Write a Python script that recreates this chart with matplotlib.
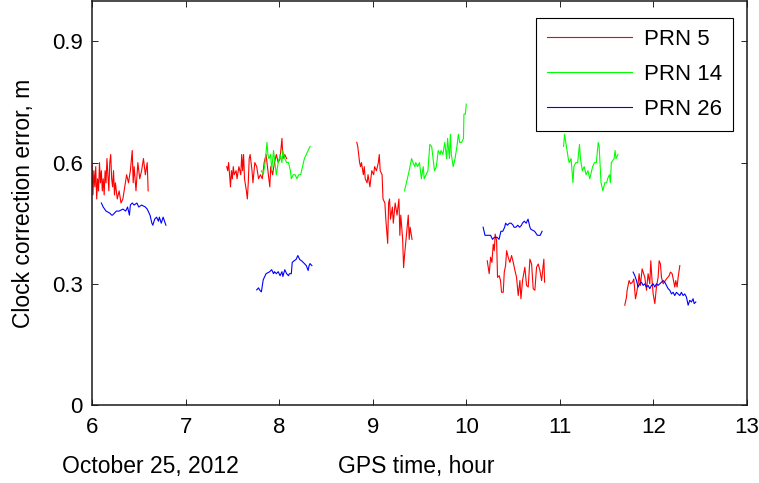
import matplotlib
matplotlib.use("Agg")
import matplotlib.pyplot as plt

plt.rcParams["font.family"] = ["Liberation Sans", "DejaVu Sans"]

# ---- PRN 5 (red), clock correction error [m] vs GPS time [hour] ----
prn5_a_t = [6.00, 6.01, 6.02, 6.03, 6.04, 6.05, 6.06, 6.07, 6.08, 6.09, 6.10, 6.11, 6.12, 6.13, 6.14,
            6.15, 6.16, 6.17, 6.18, 6.19, 6.20, 6.21, 6.22, 6.23, 6.24, 6.25, 6.27, 6.29, 6.31, 6.33,
            6.35, 6.37, 6.39, 6.41, 6.43, 6.44, 6.45, 6.47, 6.49, 6.51, 6.53, 6.55, 6.57, 6.59, 6.60]
prn5_a_y = [0.60, 0.52, 0.58, 0.54, 0.59, 0.51, 0.56, 0.53, 0.60, 0.55, 0.58, 0.53, 0.56, 0.52, 0.58,
            0.55, 0.61, 0.57, 0.53, 0.60, 0.62, 0.56, 0.54, 0.58, 0.52, 0.55, 0.51, 0.53, 0.50, 0.51,
            0.54, 0.57, 0.55, 0.58, 0.63, 0.55, 0.59, 0.53, 0.60, 0.56, 0.58, 0.61, 0.57, 0.60, 0.53]

prn5_b_t = [7.44, 7.45, 7.46, 7.47, 7.48, 7.49, 7.50, 7.51, 7.52, 7.54, 7.55, 7.57, 7.59, 7.60, 7.61,
            7.62, 7.63, 7.65, 7.66, 7.67, 7.68, 7.69, 7.71, 7.72, 7.74, 7.76, 7.78, 7.80, 7.82, 7.84,
            7.86, 7.88, 7.90, 7.91, 7.93, 7.95, 7.97, 7.99, 8.01, 8.03, 8.04, 8.06, 8.08]
prn5_b_y = [0.59, 0.58, 0.60, 0.57, 0.54, 0.58, 0.56, 0.59, 0.57, 0.58, 0.56, 0.59, 0.57, 0.62, 0.58,
            0.62, 0.56, 0.53, 0.51, 0.55, 0.61, 0.62, 0.58, 0.55, 0.60, 0.59, 0.56, 0.57, 0.56, 0.60,
            0.62, 0.58, 0.54, 0.59, 0.57, 0.60, 0.62, 0.60, 0.61, 0.66, 0.61, 0.62, 0.61]

prn5_c_t = [8.83, 8.84, 8.86, 8.87, 8.88, 8.90, 8.91, 8.92, 8.94, 8.95, 8.97, 8.99, 9.01, 9.02, 9.04,
            9.06, 9.07, 9.08, 9.10, 9.11, 9.13, 9.14, 9.15, 9.16, 9.17, 9.18, 9.19, 9.21, 9.22, 9.24,
            9.26, 9.28, 9.29, 9.30, 9.32, 9.33, 9.34, 9.36, 9.38, 9.39, 9.40, 9.42]
prn5_c_y = [0.65, 0.64, 0.60, 0.59, 0.60, 0.57, 0.59, 0.56, 0.55, 0.57, 0.54, 0.58, 0.57, 0.59, 0.58,
            0.60, 0.62, 0.58, 0.57, 0.51, 0.50, 0.46, 0.43, 0.40, 0.50, 0.51, 0.46, 0.49, 0.45, 0.50,
            0.47, 0.51, 0.42, 0.47, 0.41, 0.34, 0.37, 0.42, 0.47, 0.41, 0.44, 0.41]

prn5_d_t = [10.224, 10.245, 10.260, 10.274, 10.288, 10.299, 10.309, 10.324, 10.334, 10.352, 10.366,
            10.377, 10.395, 10.406, 10.420, 10.431, 10.448, 10.466, 10.484, 10.502, 10.520, 10.537,
            10.555, 10.573, 10.584, 10.601, 10.626, 10.644, 10.662, 10.680, 10.698, 10.715, 10.733,
            10.751, 10.769, 10.787, 10.805, 10.829, 10.837]
prn5_d_y = [0.357, 0.325, 0.366, 0.353, 0.398, 0.382, 0.423, 0.407, 0.316, 0.320, 0.308,
            0.279, 0.279, 0.329, 0.345, 0.382, 0.366, 0.353, 0.370, 0.353, 0.333, 0.316,
            0.271, 0.308, 0.263, 0.308, 0.341, 0.296, 0.292, 0.361, 0.349, 0.288, 0.284,
            0.341, 0.349, 0.333, 0.308, 0.361, 0.304]

prn5_e_t = [11.694, 11.712, 11.719, 11.740, 11.755, 11.776, 11.790, 11.808, 11.819, 11.836, 11.847,
            11.861, 11.879, 11.890, 11.908, 11.926, 11.943, 11.961, 11.972, 11.983, 11.997, 12.015,
            12.032, 12.050, 12.061, 12.075, 12.086, 12.104, 12.139, 12.168, 12.182, 12.200, 12.218,
            12.228, 12.239, 12.253, 12.264, 12.282]
prn5_e_y = [0.247, 0.267, 0.284, 0.308, 0.300, 0.304, 0.312, 0.263, 0.275, 0.300, 0.325,
            0.296, 0.337, 0.329, 0.316, 0.284, 0.325, 0.300, 0.357, 0.316, 0.275, 0.251,
            0.292, 0.316, 0.357, 0.349, 0.316, 0.300, 0.312, 0.320, 0.329, 0.325, 0.304,
            0.292, 0.308, 0.292, 0.316, 0.345]

# ---- PRN 14 (green) ----
prn14_a_t = [7.81, 7.83, 7.85, 7.87, 7.88, 7.89, 7.91, 7.92, 7.94, 7.96, 7.97, 7.99, 8.01, 8.03, 8.04,
             8.06, 8.08, 8.10, 8.12, 8.13, 8.15, 8.17, 8.19, 8.21, 8.23, 8.25, 8.27, 8.29, 8.31, 8.33]
prn14_a_y = [0.58, 0.57, 0.60, 0.65, 0.62, 0.61, 0.62, 0.58, 0.63, 0.59, 0.57, 0.60, 0.62, 0.60, 0.63,
             0.61, 0.60, 0.60, 0.58, 0.56, 0.57, 0.57, 0.56, 0.57, 0.57, 0.59, 0.61, 0.62, 0.63, 0.64]

prn14_b_t = [9.34, 9.36, 9.37, 9.39, 9.415, 9.43, 9.45, 9.46, 9.48, 9.50, 9.52, 9.54, 9.55, 9.57, 9.59,
             9.61, 9.63, 9.65, 9.66, 9.68, 9.70, 9.72, 9.73, 9.75, 9.77, 9.79, 9.80, 9.82, 9.83, 9.84,
             9.86, 9.88, 9.90, 9.915, 9.93, 9.95, 9.97, 9.975, 9.99, 10.00]
prn14_b_y = [0.53, 0.55, 0.56, 0.58, 0.61, 0.60, 0.59, 0.60, 0.59, 0.60, 0.56, 0.59, 0.56, 0.57, 0.58,
             0.645, 0.64, 0.60, 0.58, 0.59, 0.63, 0.62, 0.63, 0.62, 0.65, 0.61, 0.66, 0.61, 0.67, 0.62,
             0.59, 0.61, 0.64, 0.67, 0.65, 0.65, 0.66, 0.72, 0.72, 0.745]

prn14_c_t = [11.04, 11.05, 11.07, 11.09, 11.10, 11.12, 11.14, 11.15, 11.17, 11.19, 11.21, 11.22, 11.24,
             11.26, 11.28, 11.30, 11.32, 11.34, 11.35, 11.37, 11.39, 11.41, 11.42, 11.44, 11.46, 11.48,
             11.50, 11.51, 11.53, 11.54, 11.55, 11.58, 11.59, 11.60, 11.62]
prn14_c_y = [0.64, 0.67, 0.64, 0.61, 0.60, 0.61, 0.55, 0.59, 0.60, 0.60, 0.645, 0.61, 0.58,
             0.59, 0.57, 0.58, 0.56, 0.58, 0.59, 0.60, 0.60, 0.65, 0.64, 0.55, 0.53, 0.55,
             0.55, 0.56, 0.57, 0.55, 0.60, 0.61, 0.63, 0.61, 0.62]

# ---- PRN 26 (blue) ----
prn26_a_t = [6.10, 6.12, 6.15, 6.19, 6.21, 6.22, 6.26, 6.29, 6.33, 6.36, 6.38, 6.40, 6.41, 6.43, 6.45,
             6.48, 6.50, 6.53, 6.57, 6.59, 6.60, 6.62, 6.64, 6.65, 6.67, 6.69, 6.71, 6.72, 6.74, 6.76, 6.79]
prn26_a_y = [0.50, 0.49, 0.48, 0.475, 0.47, 0.47, 0.48, 0.48, 0.485, 0.48, 0.49, 0.47, 0.495, 0.50, 0.495,
             0.50, 0.49, 0.495, 0.49, 0.485, 0.48, 0.47, 0.45, 0.445, 0.46, 0.465, 0.455, 0.465, 0.45,
             0.465, 0.445]

prn26_b_t = [7.76, 7.78, 7.79, 7.81, 7.83, 7.85, 7.86, 7.90, 7.92, 7.94, 7.95, 7.97, 7.99, 8.01, 8.03,
             8.04, 8.06, 8.08, 8.10, 8.11, 8.13, 8.14, 8.16, 8.18, 8.20, 8.22, 8.24, 8.27, 8.29, 8.31,
             8.32, 8.33, 8.35]
prn26_b_y = [0.285, 0.29, 0.285, 0.28, 0.31, 0.32, 0.325, 0.33, 0.335, 0.325, 0.33, 0.325, 0.33, 0.32,
             0.33, 0.318, 0.335, 0.325, 0.32, 0.325, 0.325, 0.353, 0.357, 0.36, 0.37, 0.36, 0.357, 0.35,
             0.345, 0.333, 0.345, 0.35, 0.345]

prn26_c_t = [10.18, 10.20, 10.23, 10.26, 10.28, 10.30, 10.33, 10.35, 10.37, 10.39, 10.41, 10.42, 10.44,
             10.46, 10.48, 10.50, 10.51, 10.53, 10.55, 10.57, 10.59, 10.60, 10.62, 10.64, 10.66, 10.68,
             10.69, 10.73, 10.76, 10.79, 10.81]
prn26_c_y = [0.44, 0.42, 0.42, 0.42, 0.41, 0.415, 0.415, 0.41, 0.43, 0.43, 0.44, 0.45, 0.445,
             0.45, 0.45, 0.445, 0.44, 0.44, 0.445, 0.44, 0.445, 0.45, 0.455, 0.45, 0.46, 0.44,
             0.435, 0.43, 0.42, 0.42, 0.43]

prn26_d_t = [11.783, 11.801, 11.819, 11.836, 11.854, 11.872, 11.890, 11.908, 11.925, 11.943, 11.961,
             11.979, 11.997, 12.015, 12.032, 12.050, 12.068, 12.086, 12.104, 12.121, 12.139, 12.157,
             12.175, 12.193, 12.210, 12.228, 12.246, 12.264, 12.282, 12.299, 12.317, 12.335, 12.353,
             12.371, 12.388, 12.406, 12.424, 12.435, 12.453]
prn26_d_y = [0.329, 0.320, 0.308, 0.292, 0.300, 0.304, 0.296, 0.300, 0.292, 0.296, 0.288,
             0.296, 0.300, 0.292, 0.300, 0.296, 0.300, 0.304, 0.308, 0.304, 0.296, 0.288,
             0.284, 0.275, 0.279, 0.271, 0.279, 0.275, 0.271, 0.279, 0.271, 0.275, 0.267,
             0.247, 0.259, 0.255, 0.263, 0.251, 0.255]

x_ticks = [6, 7, 8, 9, 10, 11, 12, 13]
y_ticks = [0, 0.3, 0.6, 0.9]
y_tick_labels = ["0", "0.3", "0.6", "0.9"]

series = [
    ("PRN 5", "#ff0000", [(prn5_a_t, prn5_a_y), (prn5_b_t, prn5_b_y), (prn5_c_t, prn5_c_y),
                          (prn5_d_t, prn5_d_y), (prn5_e_t, prn5_e_y)]),
    ("PRN 14", "#00ff00", [(prn14_a_t, prn14_a_y), (prn14_b_t, prn14_b_y), (prn14_c_t, prn14_c_y)]),
    ("PRN 26", "#0000ff", [(prn26_a_t, prn26_a_y), (prn26_b_t, prn26_b_y), (prn26_c_t, prn26_c_y),
                           (prn26_d_t, prn26_d_y)]),
]

fig = plt.figure(figsize=(7.59, 4.83), dpi=100)
ax = fig.add_axes([92 / 759, 78 / 483, 655 / 759, 404 / 483])

for label, color, segs in series:
    for i, (t, y) in enumerate(segs):
        ax.plot(t, y, color=color, lw=0.8, label=label if i == 0 else None)

ax.set_xlim(6, 13)
ax.set_ylim(0, 1)
ax.set_xticks(x_ticks)
ax.set_yticks(y_ticks)
ax.set_yticklabels(y_tick_labels)
ax.tick_params(direction="in", top=True, right=True, length=4.5, width=0.6, labelsize=16)
ax.tick_params(axis="x", pad=8.5)
ax.tick_params(axis="y", pad=6.5)
for sp in ax.spines.values():
    sp.set_linewidth(1.1)
    sp.set_color("#1a1a1a")

# axis labels (ylabel anchored at its right edge after rotation)
ax.set_ylabel("Clock correction error, m", fontsize=16.5)
ax.yaxis.set_label_coords(-0.087, 0.5)
ax.set_xlabel("GPS time, hour", fontsize=16.5)
ax.xaxis.set_label_coords(0.495, -0.125)
ax.text(-0.046, -0.125, "October 25, 2012", transform=ax.transAxes, fontsize=16.5,
        ha="left", va="top")

leg = ax.legend(loc="upper right", bbox_to_anchor=(0.9786, 0.958), borderaxespad=0,
                fontsize=16, handlelength=3.8, handletextpad=0.55, labelspacing=0.62,
                borderpad=0.5, fancybox=False, framealpha=1, edgecolor="black")
leg.get_frame().set_linewidth(0.8)

fig.savefig("out.png", dpi=100)
